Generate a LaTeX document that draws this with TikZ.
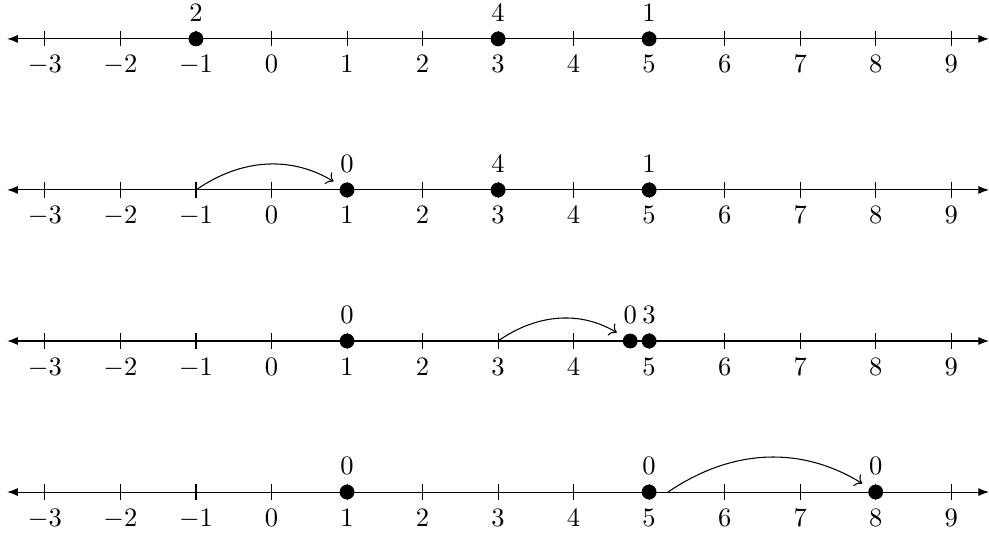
\documentclass[tikz,border=0pt]{standalone}
\usepackage{amsmath}
\usetikzlibrary{arrows.meta,positioning,calc}
\tikzset{
  dot/.style={circle, fill, inner sep=0pt, minimum size=5.6pt},
  hop/.style={->, shorten >=3pt},
}
\begin{document}
\begin{tikzpicture}[>=To]
  \useasboundingbox (-3.595,-6.634) rectangle (9.5,0.515);

  % ---- the four number lines ----
  \foreach \row in {0,1,2,3} {
    \begin{scope}[yshift={-2cm*\row}]
      \draw[{Latex[length=4pt]}-{Latex[length=4pt]}] (-3.5,0) -- (9.5,0);
      \foreach \x in {-3,...,9}
        \draw (\x,0.1) -- (\x,-0.1) node[below] (t\row\x) {$\x$};
    \end{scope}
  }

  % ---- row 0 ----
  \node[dot, label=above:$2$] (a1) at (-1,0) {};
  \node[dot, label=above:$4$] (a2) at (3,0) {};
  \node[dot, label=above:$1$] (a3) at (5,0) {};

  % ---- row 1: the 2 at -1 jumps to 1 ----
  \coordinate (s1) at (-1,-2);
  \node[dot, label=above:$0$] (b1) at (1,-2) {};
  \node[dot, label=above:$4$] (b2) at (3,-2) {};
  \node[dot, label=above:$1$] (b3) at (5,-2) {};
  \draw[hop] (s1) to[bend left=33] (b1);

  % ---- row 2: the 4 at 3 jumps to 4.75 ----
  \coordinate (s2) at (3,-4);
  \node[dot, label=above:$0$] (c1) at (1,-4) {};
  \node[dot, label={[inner xsep=1pt]above:$0$}] (c2) at (4.75,-4) {};
  \node[dot, label={[inner xsep=1pt]above:$3$}] (c3) at (5,-4) {};
  \draw[hop] (s2) to[bend left=33] (c2);

  % ---- row 3: the 3 at 5 jumps to 8 ----
  \coordinate (s3) at (5.25,-6);
  \node[dot, label=above:$0$] (d1) at (1,-6) {};
  \node[dot, label=above:$0$] (d2) at (5,-6) {};
  \node[dot, label=above:$0$] (d3) at (8,-6) {};
  \draw[hop] (s3) to[bend left=33] (d3);

\end{tikzpicture}
\end{document}
